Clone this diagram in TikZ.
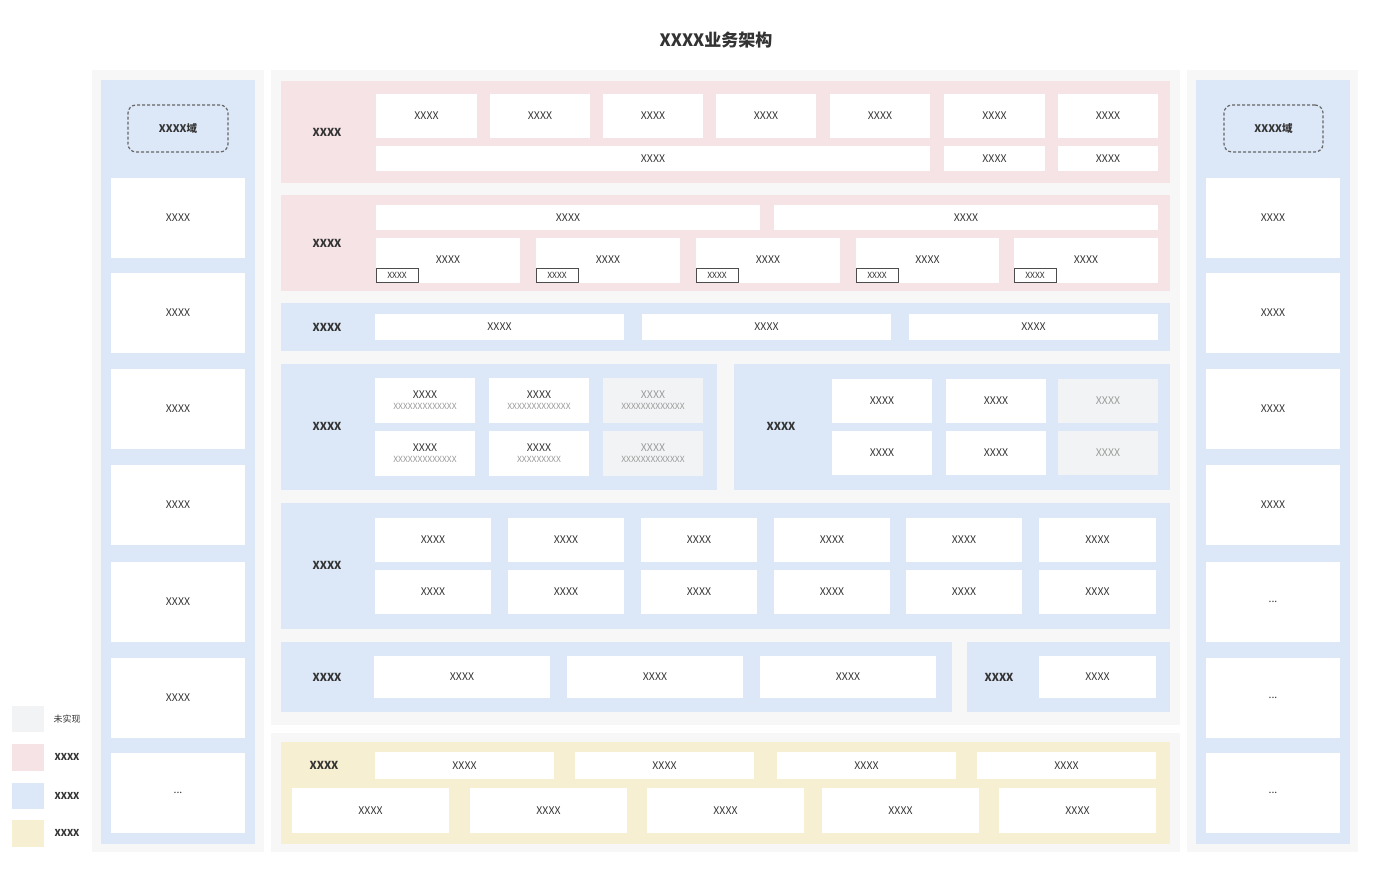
\documentclass[tikz,border=0pt]{standalone}
\usepackage{fontspec}
\setmainfont{Noto Sans CJK SC}
\newcounter{bxc}
\definecolor{pinkbg}{HTML}{F6E3E6}
\definecolor{bluebg}{HTML}{DCE8F8}
\definecolor{yelbg}{HTML}{F7EFD2}
\definecolor{outerbg}{HTML}{F7F7F7}
\definecolor{nabg}{HTML}{F2F3F4}
\definecolor{txt}{HTML}{333333}
\definecolor{subt}{HTML}{9A9A9A}
\tikzset{
  bxs/.style={inner sep=0pt, text=txt, font=\fontsize{10.5}{12}\selectfont, align=center},
  wbox/.style={fill=white},
  gbox/.style={fill=nabg, text=subt},
  lbl/.style={font=\bfseries\fontsize{11}{13}\selectfont},
  tagbox/.style={fill=white, draw=black!70, line width=0.8pt, font=\fontsize{8.5}{10}\selectfont},
  dashbox/.style={draw=black!60, dashed, line width=1.2pt, rounded corners=8pt, dash pattern=on 3pt off 2pt, font=\bfseries\fontsize{10.5}{12}\selectfont}
}
% \bx[style]{x1}{y1}{x2}{y2}{text}
\newcommand\bx[6][wbox]{\stepcounter{bxc}%
  \node[bxs,#1,minimum width={(#4-#2)*1pt},minimum height={(#5-#3)*1pt}] (b\thebxc) at ({(#2+#4)/2},{(#3+#5)/2}) {#6};}
\newcommand\tx[3][]{\stepcounter{bxc}\node[bxs,#1] (t\thebxc) at (#2) {#3};}
\newcommand\two[2]{XXXX\\[-1pt]{\color{subt}\fontsize{8.5}{12}\selectfont #2}}
\begin{document}
\begin{tikzpicture}[x=1pt,y=-1pt]
\useasboundingbox (0,0) rectangle (1400,895);
\fill[white] (0,0) rectangle (1400,895);
\node[text=txt, font=\bfseries\fontsize{17}{20}\selectfont] (title) at (716,40) {XXXX业务架构};
% side panels
\foreach \a/\b in {92/264,1187/1358}{\fill[outerbg] (\a,70) rectangle (\b,852);}
\fill[bluebg] (101,80) rectangle (255,844);
\fill[bluebg] (1196,80) rectangle (1350,844);
\bx[dashbox]{128}{105}{228}{152}{XXXX域}
\bx[dashbox]{1224}{105}{1323}{152}{XXXX域}
\foreach \y [count=\i] in {178,273,369,465,562,658,753}{
  \pgfmathsetmacro\yy{\y+80}
  \ifnum\i<7 \bx{111}{\y}{245}{\yy}{XXXX}\else\bx{111}{\y}{245}{\yy}{...}\fi
  \ifnum\i<5 \bx{1206}{\y}{1340}{\yy}{XXXX}\else\bx{1206}{\y}{1340}{\yy}{...}\fi
}
% center
\fill[outerbg] (271,70) rectangle (1180,725);
\fill[outerbg] (271,733) rectangle (1180,852);
% row1
\fill[pinkbg] (281,81) rectangle (1170,183);
\tx[lbl]{327,132}{XXXX}
\foreach \a/\b in {376/477,490/590,603/703,716/816,830/930,944/1045,1058/1158}{\bx{\a}{94}{\b}{138}{XXXX}}
\foreach \a/\b in {376/930,944/1045,1058/1158}{\bx{\a}{146}{\b}{171}{XXXX}}
% row2
\fill[pinkbg] (281,195) rectangle (1170,291);
\tx[lbl]{327,243}{XXXX}
\foreach \a/\b in {376/760,774/1158}{\bx{\a}{205}{\b}{230}{XXXX}}
\foreach \a/\b in {376/520,536/680,696/840,856/999,1014/1158}{\bx{\a}{238}{\b}{283}{}
  \tx{{(\a+\b)/2},260}{XXXX}
  \pgfmathsetmacro\c{\a+42}\bx[tagbox]{\a}{268}{\c}{282}{XXXX}}
% row3
\fill[bluebg] (281,303) rectangle (1170,351);
\tx[lbl]{327,327}{XXXX}
\foreach \a/\b in {375/624,642/891,909/1158}{\bx{\a}{314}{\b}{340}{XXXX}}
% row4
\fill[bluebg] (281,364) rectangle (717,490);
\tx[lbl]{327,426}{XXXX}
\bx{375}{378}{475}{423}{\two{}{XXXXXXXXXXXXX}}
\bx{489}{378}{589}{423}{\two{}{XXXXXXXXXXXXX}}
\bx[gbox]{603}{378}{703}{423}{XXXX\\[-1pt]{\fontsize{8.5}{12}\selectfont XXXXXXXXXXXXX}}
\bx{375}{431}{475}{476}{\two{}{XXXXXXXXXXXXX}}
\bx{489}{431}{589}{476}{\two{}{XXXXXXXXX}}
\bx[gbox]{603}{431}{703}{476}{XXXX\\[-1pt]{\fontsize{8.5}{12}\selectfont XXXXXXXXXXXXX}}
\fill[bluebg] (734,364) rectangle (1170,490);
\tx[lbl]{781,426}{XXXX}
\foreach \y/\z in {379/423,431/475}{
  \bx{832}{\y}{932}{\z}{XXXX}\bx{946}{\y}{1046}{\z}{XXXX}\bx[gbox]{1058}{\y}{1158}{\z}{XXXX}}
% row5
\fill[bluebg] (281,503) rectangle (1170,629);
\tx[lbl]{327,565}{XXXX}
\foreach \y/\z in {518/562,570/614}{
\foreach \a/\b in {375/491,508/624,641/757,774/890,906/1022,1039/1156}{\bx{\a}{\y}{\b}{\z}{XXXX}}}
% row6
\fill[bluebg] (281,642) rectangle (952,712);
\tx[lbl]{327,677}{XXXX}
\foreach \a/\b in {374/550,567/743,760/936}{\bx{\a}{656}{\b}{698}{XXXX}}
\fill[bluebg] (967,642) rectangle (1170,712);
\tx[lbl]{999,677}{XXXX}
\bx{1039}{656}{1156}{698}{XXXX}
% bottom
\fill[yelbg] (281,742) rectangle (1170,844);
\tx[lbl]{324,765}{XXXX}
\foreach \a/\b in {375/554,575/754,777/956,977/1156}{\bx{\a}{752}{\b}{779}{XXXX}}
\foreach \a/\b in {292/449,470/627,647/804,822/979,999/1156}{\bx{\a}{788}{\b}{833}{XXXX}}
% legend
\bx[fill=nabg]{12}{706}{44}{732}{}
\tx[font=\fontsize{9}{11}\selectfont]{67,719}{未实现}
\bx[fill=pinkbg]{12}{744}{44}{771}{}
\tx[lbl,font=\bfseries\fontsize{9.5}{11}\selectfont]{67,757}{XXXX}
\bx[fill=bluebg]{12}{783}{44}{809}{}
\tx[lbl,font=\bfseries\fontsize{9.5}{11}\selectfont]{67,796}{XXXX}
\bx[fill=yelbg]{12}{820}{44}{847}{}
\tx[lbl,font=\bfseries\fontsize{9.5}{11}\selectfont]{67,833}{XXXX}
\end{tikzpicture}
\end{document}
